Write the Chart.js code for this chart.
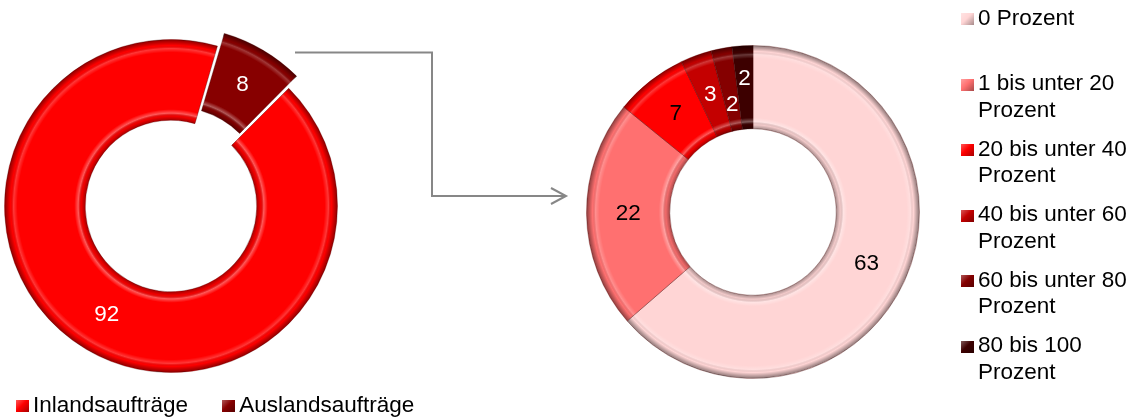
<!DOCTYPE html>
<html>
<head>
<meta charset="utf-8">
<script src="https://cdn.jsdelivr.net/npm/chart.js@4/dist/chart.umd.min.js"></script>
<style>
  html, body { margin: 0; padding: 0; background: #fff; }
  #wrap { position: relative; width: 1134px; height: 419px; overflow: hidden;
          font-family: Arial, "Liberation Sans", sans-serif; font-size: 22.5px; color: #000; }
  #leftChart { position: absolute; left: -15px; top: 20px; }
  #rightChart { position: absolute; left: 586px; top: 45px; }
  #arrow { position: absolute; left: 0; top: 0; }
  .legend { position: absolute; line-height: 26.5px; }
  .legend .item { position: relative; padding-left: 17px; }
  .legend .box { position: absolute; left: 0; top: 8.5px; width: 13px; height: 12px; }
  #legendLeft { left: 16px; top: 391.6px; white-space: nowrap; }
  #legendLeft .item { display: inline-block; }
  #legendLeft .item + .item { margin-left: 34px; }
  #legendRight { left: 961px; top: 4.5px; width: 182px; }
  #legendRight .item { height: 65.6px; }
</style>
</head>
<body>
<div id="wrap">
  <canvas id="leftChart" width="372" height="372"></canvas>
  <canvas id="rightChart" width="334" height="334"></canvas>
  <svg id="arrow" width="1134" height="419">
    <polyline points="295,52.5 432,52.5 432,196 565,196" fill="none" stroke="#878787" stroke-width="2"/>
    <polyline points="551,188 566,196 551,204" fill="none" stroke="#878787" stroke-width="2"/>
  </svg>
  <div id="legendLeft" class="legend"></div>
  <div id="legendRight" class="legend"></div>
</div>
<script>
// Auftragsherkunft (linker Ring)
const orderLabels = ['Inlandsaufträge', 'Auslandsaufträge'];
const orderValues = [92, 8];
const orderColors = ['#ff0000', '#870000'];
const orderTextColors = ['#ffffff', '#ffffff'];

// Anteil Auslandsaufträge (rechter Ring)
const shareLabels = ['0 Prozent', '1 bis unter 20 Prozent', '20 bis unter 40 Prozent',
  '40 bis unter 60 Prozent', '60 bis unter 80 Prozent', '80 bis 100 Prozent'];
const shareValues = [63, 22, 7, 3, 2, 2];
const shareColors = ['#ffd5d5', '#ff7070', '#ff0000', '#c40000', '#850000', '#3d0000'];
const shareTextColors = ['#000000', '#000000', '#000000', '#ffffff', '#ffffff', '#ffffff'];

// where in the ring each label sits (0 = inner edge, 1 = outer edge)
const shareLabelPos = [0.5, 0.5, 0.5, 0.5, 0.31, 0.6];
const orderLabelPos = [0.5, 0.5];

const FONT = '22.5px Arial, "Liberation Sans", sans-serif';

function arcGeometry(arc) {
  const p = arc.getProps(['x', 'y', 'startAngle', 'endAngle', 'innerRadius', 'outerRadius'], true);
  const off = (arc.options.offset || 0) / 4;
  const half = (p.startAngle + p.endAngle) / 2;
  const fix = 1 - Math.sin(Math.min(Math.PI, p.endAngle - p.startAngle));
  return {
    cx: p.x + Math.cos(half) * off,
    cy: p.y + Math.sin(half) * off,
    ri: p.innerRadius + off * fix,
    ro: p.outerRadius + off * fix,
    start: p.startAngle, end: p.endAngle, half
  };
}

// rough imitation of the bevelled 3D look
const bevel = {
  id: 'bevel',
  afterDatasetsDraw(chart) {
    const ctx = chart.ctx;
    chart.getDatasetMeta(0).data.forEach(arc => {
      const g = arcGeometry(arc);
      const w = g.ro - g.ri;
      const s = px => Math.min(1, Math.max(0, px / w));
      ctx.save();
      ctx.beginPath();
      ctx.arc(g.cx, g.cy, g.ro, g.start, g.end);
      ctx.arc(g.cx, g.cy, g.ri, g.end, g.start, true);
      ctx.closePath();
      ctx.clip();
      const grad = ctx.createRadialGradient(g.cx, g.cy, g.ri, g.cx, g.cy, g.ro);
      grad.addColorStop(0, 'rgba(0,0,0,0.35)');
      grad.addColorStop(s(4), 'rgba(0,0,0,0.05)');
      grad.addColorStop(s(7), 'rgba(255,255,255,0.35)');
      grad.addColorStop(s(11), 'rgba(255,255,255,0)');
      grad.addColorStop(s(w - 13), 'rgba(255,255,255,0)');
      grad.addColorStop(s(w - 9), 'rgba(255,255,255,0.22)');
      grad.addColorStop(s(w - 6), 'rgba(0,0,0,0)');
      grad.addColorStop(1, 'rgba(0,0,0,0.45)');
      ctx.fillStyle = grad;
      ctx.fill();
      ctx.restore();
    });
  }
};

const sliceLabels = {
  id: 'sliceLabels',
  afterDatasetsDraw(chart, args, opts) {
    const ctx = chart.ctx;
    const ds = chart.data.datasets[0];
    ctx.save();
    ctx.font = FONT;
    ctx.textAlign = 'center';
    ctx.textBaseline = 'middle';
    chart.getDatasetMeta(0).data.forEach((arc, i) => {
      const g = arcGeometry(arc);
      const r = g.ri + (g.ro - g.ri) * opts.pos[i];
      ctx.fillStyle = opts.colors[i];
      ctx.fillText(String(ds.data[i]), g.cx + Math.cos(g.half) * r, g.cy + Math.sin(g.half) * r);
    });
    ctx.restore();
  }
};

function makeDonut(id, labels, values, colors, textColors, labelPos, extra) {
  return new Chart(document.getElementById(id), {
    type: 'doughnut',
    data: {
      labels: labels,
      datasets: [{
        data: values,
        backgroundColor: colors,
        borderColor: 'rgba(60,0,0,0.35)',
        borderWidth: 1,
        hoverOffset: 0,
        offset: extra.offset
      }]
    },
    options: {
      responsive: false,
      animation: false,
      rotation: extra.rotation,
      cutout: extra.cutout,
      layout: { padding: 0 },
      events: [],
      plugins: {
        legend: { display: false },
        tooltip: { enabled: false },
        sliceLabels: { colors: textColors, pos: labelPos }
      }
    },
    plugins: [bevel, sliceLabels]
  });
}

makeDonut('leftChart', orderLabels, orderValues, orderColors, orderTextColors, orderLabelPos,
  { offset: [0, 38], rotation: 45, cutout: '51.5%' });
makeDonut('rightChart', shareLabels, shareValues, shareColors, shareTextColors, shareLabelPos,
  { offset: 0, rotation: 0, cutout: '50%' });

function buildLegend(id, labels, colors) {
  document.getElementById(id).innerHTML = labels.map((l, i) =>
    `<div class="item"><span class="box" style="background:linear-gradient(135deg, rgba(255,255,255,0.35), rgba(255,255,255,0) 45%, rgba(0,0,0,0.35)), ${colors[i]}"></span>${l}</div>`
  ).join('');
}
buildLegend('legendLeft', orderLabels, orderColors);
buildLegend('legendRight', shareLabels, shareColors);
</script>
</body>
</html>
